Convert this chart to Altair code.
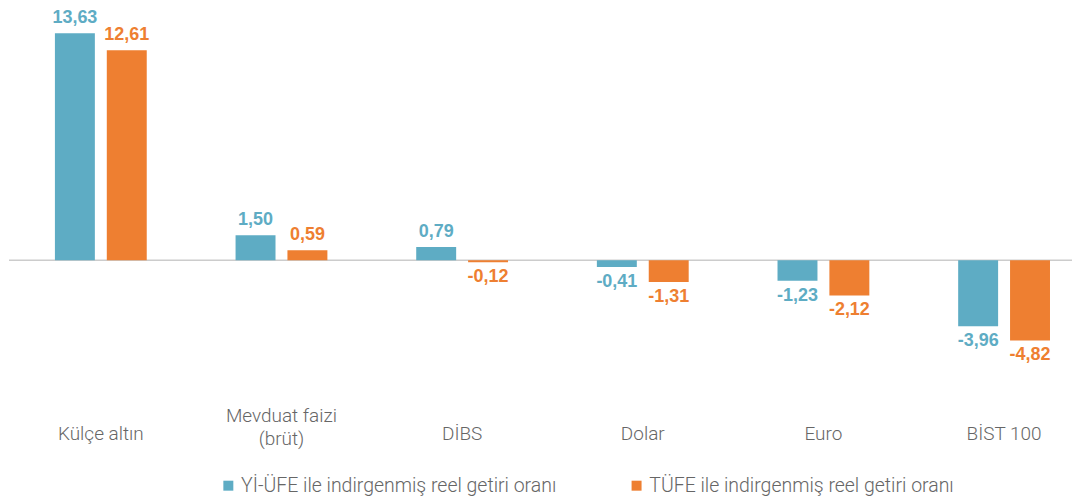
import altair as alt
import pandas as pd

categories = ["Külçe altın", "Mevduat faizi (brüt)", "DİBS", "Dolar", "Euro", "BİST 100"]
series_names = ["Yİ-ÜFE ile indirgenmiş reel getiri oranı", "TÜFE ile indirgenmiş reel getiri oranı"]
yi_ufe = [13.63, 1.50, 0.79, -0.41, -1.23, -3.96]
tufe = [12.61, 0.59, -0.12, -1.31, -2.12, -4.82]
colors = ["#5EACC4", "#EE7F31"]

rows = []
for c, a, b in zip(categories, yi_ufe, tufe):
    rows.append({"cat": c, "series": series_names[0], "value": a})
    rows.append({"cat": c, "series": series_names[1], "value": b})
df = pd.DataFrame(rows)

two_line = "datum.value == 'Mevduat faizi (brüt)'"
x = alt.X("cat:N", sort=categories, title=None,
          scale=alt.Scale(paddingInner=0.4917, paddingOuter=0.188, align=0.676),
          axis=alt.Axis(domain=False, ticks=False, labelAngle=0,
                        labelPadding={"condition": {"test": two_line, "value": 14}, "value": 32},
                        labelBaseline="middle", labelFont="Roboto", labelFontWeight=300,
                        labelFontSize=19, labelColor="#666666", labelLineHeight=23,
                        labelExpr=two_line + " ? ['Mevduat faizi', '(brüt)'] : datum.value"))
xo = alt.XOffset("series:N", sort=series_names, scale=alt.Scale(paddingInner=0.23))
y = alt.Y("value:Q", scale=alt.Scale(domain=[-8.5, 15], nice=False, zero=False), axis=None)
color = alt.Color("series:N", sort=series_names,
                  scale=alt.Scale(domain=series_names, range=colors),
                  legend=alt.Legend(title=None, orient="none", legendX=210, legendY=466,
                                    direction="horizontal", symbolType="square", symbolSize=100,
                                    symbolStrokeWidth=0, labelFont="Roboto", labelFontWeight=300,
                                    labelFontSize=19.5, labelColor="#666666", labelOffset=3,
                                    columnPadding=70, labelLimit=500, padding=0))

base = alt.Chart(df)

bars = base.mark_bar().encode(x=x, xOffset=xo, y=y, y2=alt.datum(0), color=color)

labels_src = base.transform_calculate(
    label="(datum.value < 0 ? '-' : '') + replace(format(abs(datum.value), '.2f'), '.', ',')"
)
lab_color = alt.Color("series:N", sort=series_names,
                      scale=alt.Scale(domain=series_names, range=colors), legend=None)
pos = labels_src.transform_filter("datum.value >= 0").mark_text(
    baseline="bottom", dy=-6, font="Liberation Sans", fontWeight="bold", fontSize=18
).encode(x=x, xOffset=xo, y=y, text="label:N", color=lab_color)
neg = labels_src.transform_filter("datum.value < 0").mark_text(
    baseline="top", dy=6, font="Liberation Sans", fontWeight="bold", fontSize=18
).encode(x=x, xOffset=xo, y=y, text="label:N", color=lab_color)

zero = alt.Chart(pd.DataFrame({"v": [0]})).mark_rule(color="#cccccc", strokeWidth=1.5).encode(
    y=alt.Y("v:Q", scale=alt.Scale(domain=[-8.5, 15], nice=False, zero=False), axis=None)
)

chart = alt.layer(zero, bars, pos, neg).properties(
    width=1065, height=392, padding=0, background="white"
).configure_view(strokeWidth=0)

chart.save("out.html", embed_options={"renderer": "svg", "actions": False})
